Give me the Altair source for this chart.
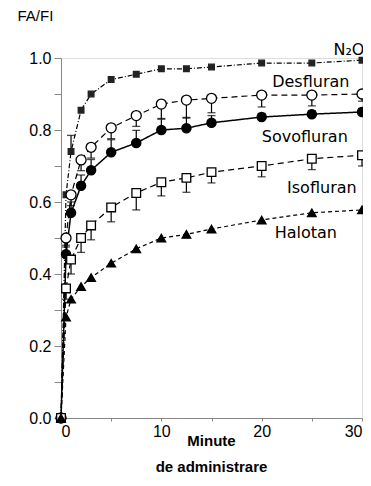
import altair as alt
import pandas as pd

# ---- data ----
times = [0, 0.5, 1, 2, 3, 5, 7.5, 10, 12.5, 15, 20, 25, 30]
n2o = [0, 0.62, 0.74, 0.855, 0.90, 0.94, 0.955, 0.97, 0.97, 0.975, 0.986, 0.986, 0.994]
desfluran = [0, 0.50, 0.62, 0.717, 0.752, 0.806, 0.84, 0.872, 0.883, 0.888, 0.897, 0.897, 0.90]
sevofluran = [0, 0.455, 0.57, 0.645, 0.688, 0.738, 0.764, 0.80, 0.805, 0.82, 0.836, 0.844, 0.85]
isofluran = [0, 0.36, 0.44, 0.50, 0.535, 0.585, 0.625, 0.655, 0.667, 0.683, 0.70, 0.72, 0.73]
halotan = [0, 0.28, 0.33, 0.365, 0.39, 0.43, 0.47, 0.50, 0.51, 0.525, 0.55, 0.57, 0.578]

# error-bar lengths (sign: +1 up, -1 down)
n2o_err = [0, 0, 0.045, 0, 0, 0, 0, 0, 0, 0, 0, 0, 0]
des_err = [0, 0.02, 0.03, 0.03, 0.03, 0.03, 0.03, 0.04, 0.05, 0.04, 0.033, 0.03, 0.02]
sevo_err = [0, 0.02, 0.03, 0.03, 0.03, 0.035, 0.035, 0.03, 0.03, 0.02, 0.01, 0.01, 0.01]
iso_err = [0, 0.03, 0.04, 0.04, 0.04, 0.04, 0.047, 0.038, 0.04, 0.03, 0.03, 0.03, 0.03]

series_names = ["N₂O", "Desfluran", "Sovofluran", "Isofluran", "Halotan"]
series_values = [n2o, desfluran, sevofluran, isofluran, halotan]
series_errs = [n2o_err, des_err, sevo_err, iso_err, None]
err_dirs = [1, -1, 1, -1, 0]

label_x = [28.7, 24.9, 24.3, 26.0, 24.4]
label_y = [1.008, 0.919, 0.767, 0.625, 0.50]

y_ticks = [0, 0.1, 0.2, 0.3, 0.4, 0.5, 0.6, 0.7, 0.8, 0.9, 1.0]
x_ticks = [0, 5, 10, 15, 20, 25, 30]

# ---- build tables ----
rows, err_rows = [], []
for name, vals, errs, d in zip(series_names, series_values, series_errs, err_dirs):
    for i, (t, v) in enumerate(zip(times, vals)):
        rows.append({"s": name, "t": t, "v": v})
        if errs is not None and errs[i] > 0:
            err_rows.append({"s": name, "t": t, "v": v, "end": v + d * errs[i]})
df = pd.DataFrame(rows)
edf = pd.DataFrame(err_rows)
ldf = pd.DataFrame({"s": series_names, "t": label_x, "v": label_y})

FONT = "DejaVu Sans"

x_axis = alt.Axis(
    values=x_ticks,
    labelExpr="datum.value % 10 == 0 ? datum.label : ''",
    title=["Minute", "de administrare"],
    titleFontWeight="bold", titleFontSize=15, titleLineHeight=26,
    titleBaseline="top", titleY=15, titleX=150,
    labelFontSize=16, labelPadding=2, tickSize=3,
    grid=False,
)
y_axis = alt.Axis(
    values=y_ticks, format=".1f",
    labelExpr="round(datum.value * 10) % 2 == 0 ? datum.label : ''",
    title="FA/FI", titleAngle=0, titleAlign="left", titleBaseline="alphabetic",
    titleX=-44, titleY=-38, titleFontSize=15, titleFontWeight="normal",
    labelFontSize=16, labelPadding=3, tickSize=7, grid=False,
)
xs = alt.Scale(domain=[0, 30], nice=False)
ys = alt.Scale(domain=[0, 1], nice=False)

def X(f="t"):
    return alt.X(f"{f}:Q", scale=xs, axis=x_axis)

def Y(f="v"):
    return alt.Y(f"{f}:Q", scale=ys, axis=y_axis)

styles = {
    "N₂O": dict(dash=[5, 2, 1, 2], sw=1.2, shape="square", size=32, fill="#222", stroke="#222"),
    "Desfluran": dict(dash=[6, 4], sw=1.2, shape="circle", size=100, fill="white", stroke="black"),
    "Sovofluran": dict(dash=[1, 0], sw=1.5, shape="circle", size=85, fill="black", stroke="black"),
    "Isofluran": dict(dash=[6, 4], sw=1.2, shape="square", size=75, fill="white", stroke="black"),
    "Halotan": dict(dash=[4, 3], sw=1.2, shape="triangle-up", size=75, fill="black", stroke="black"),
}

base = alt.Chart(df)
ebase = alt.Chart(edf)
layers = []
for name in series_names:
    st = styles[name]
    layers.append(
        base.transform_filter(alt.datum.s == name)
        .mark_line(color="black", strokeWidth=st["sw"], strokeDash=st["dash"])
        .encode(x=X(), y=Y())
    )
layers.append(ebase.mark_rule(color="black", strokeWidth=1.2).encode(x=X(), y=Y(), y2="end:Q"))
layers.append(ebase.mark_tick(color="black", orient="horizontal", size=8, thickness=1.3)
              .encode(x=X(), y=Y("end")))
for name in series_names:
    st = styles[name]
    layers.append(
        base.transform_filter(alt.datum.s == name)
        .mark_point(shape=st["shape"], size=st["size"], filled=True, fill=st["fill"],
                    stroke=st["stroke"], strokeWidth=1.3, opacity=1)
        .encode(x=X(), y=Y())
    )
layers.append(
    alt.Chart(ldf).mark_text(font=FONT, fontSize=16, align="center", baseline="alphabetic", color="black")
    .encode(x=X(), y=Y(), text="s:N")
)

chart = alt.layer(*layers).properties(
    width=301, height=360,
    autosize=alt.AutoSizeParams(type="none"),
    padding={"left": 53, "top": 50, "right": 1, "bottom": 58},
).configure_view(stroke=None).configure_axis(
    domainColor="black", tickColor="black", labelColor="black", titleColor="black",
    labelFont=FONT, titleFont=FONT, domainWidth=1.3,
).configure(background="white")

chart.save("out.html", embed_options={"renderer": "svg", "actions": False})
